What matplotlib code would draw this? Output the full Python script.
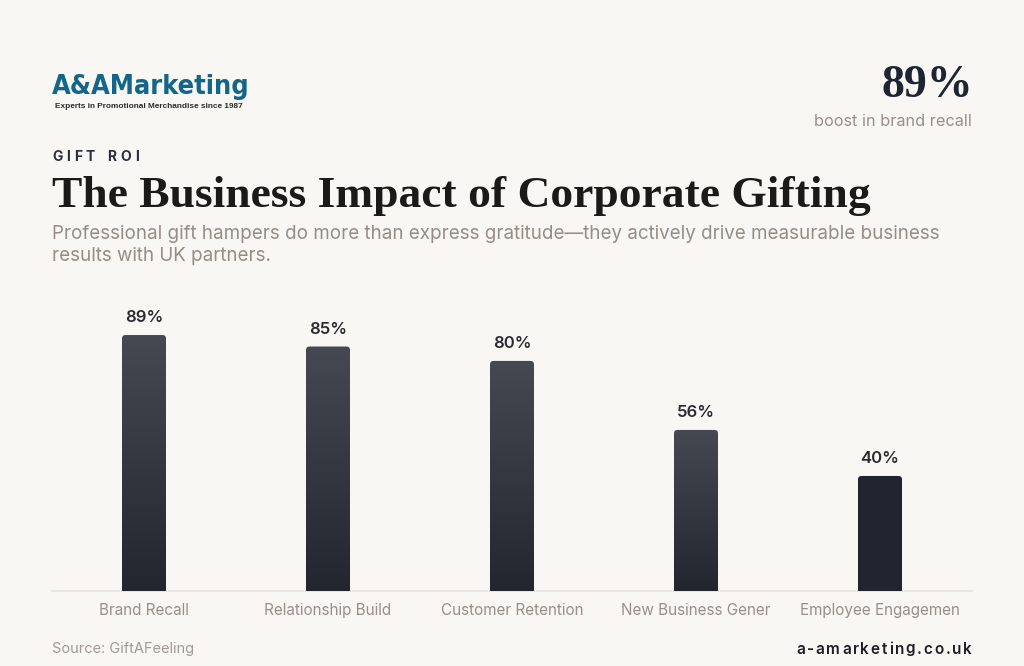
import matplotlib
matplotlib.use("Agg")
import matplotlib.pyplot as plt
import numpy as np
from matplotlib.patches import FancyBboxPatch
from matplotlib.colors import LinearSegmentedColormap

# ---- data ----
categories = ["Brand Recall", "Relationship Build", "Customer Retention",
              "New Business Gener", "Employee Engagemen"]
values = [89, 85, 80, 56, 40]
value_labels = ["89%", "85%", "80%", "56%", "40%"]
headline_value = "89%"
headline_caption = "boost in brand recall"
eyebrow = "GIFT ROI"
title = "The Business Impact of Corporate Gifting"
subtitle_lines = ["Professional gift hampers do more than express gratitude\u2014they actively drive measurable business",
                  "results with UK partners."]
source = "Source: GiftAFeeling"
site = "a-amarketing.co.uk"
logo_main = "A&AMarketing"
logo_sub = "Experts in Promotional Merchandise since 1987"

W, H = 1024, 666
BG = "#f8f7f3"
SANS = ["Inter", "DejaVu Sans"]
SERIF = ["Liberation Serif", "DejaVu Serif"]

fig = plt.figure(figsize=(W / 100, H / 100), dpi=100, facecolor=BG)
renderer = fig.canvas.get_renderer()


def fx(x):
    return x / W


def fy(y):
    return 1 - y / H


def text_px(x, y, s, **kw):
    return fig.text(fx(x), fy(y), s, **kw)


def fit_text(x, y, s, target_w, size0, **kw):
    t = text_px(x, y, s, fontsize=size0, **kw)
    w = t.get_window_extent(renderer).width
    t.set_fontsize(size0 * target_w / w)
    return t


def spaced_text(x, y, s, spacing, align="left", **kw):
    # draw characters one by one with extra letter spacing
    widths = []
    for ch in s:
        t = fig.text(0, 0, ch if ch != " " else "n", **kw)
        w = t.get_window_extent(renderer).width
        if ch == " ":
            w *= 0.55
        widths.append(w)
        t.remove()
    total = sum(widths) + spacing * (len(s) - 1)
    cx = x - total if align == "right" else x
    for ch, w in zip(s, widths):
        if ch != " ":
            fig.text(fx(cx), fy(y), ch, ha="left", va="center", **kw)
        cx += w + spacing


# ---- logo ----
fit_text(52, 87, logo_main, 198, 24, family=["DejaVu Sans"], fontstretch="condensed",
         fontweight="bold", color="#14658a", va="center", ha="left")
fit_text(55, 106, logo_sub, 190, 6, family=["Liberation Sans", "DejaVu Sans"],
         fontweight="bold", color="#2b2b2b", va="center", ha="left")

# ---- headline stat ----
text_px(973, 86, headline_value, family=SERIF, fontweight="bold", fontsize=33,
        color="#1f2433", ha="right", va="center")
text_px(972, 122, headline_caption, family=SANS, fontsize=11.7, color="#9a8f87",
        ha="right", va="center")

# ---- eyebrow / title / subtitle ----
spaced_text(52, 157, eyebrow, 3.8, family=SANS, fontweight="bold", fontsize=10,
            color="#2a2d3a")
fit_text(52, 196, title, 816, 30, family=SERIF, fontweight="bold",
         color="#1c1a18", ha="left", va="center")
for i, line in enumerate(subtitle_lines):
    fit_text(52, 234 + 22 * i, line, 885 if i == 0 else 218, 13.4, family=SANS,
             color="#978d85", ha="left", va="center")

# ---- chart ----
base_y = 591
top_y = base_y - 287.6
ax = fig.add_axes([fx(52), fy(base_y), (972 - 52) / W, (base_y - top_y) / H])
ax.set_facecolor("none")
ax.set_xlim(-0.5, len(categories) - 0.5)
ax.set_ylim(0, 100)
x = np.arange(len(categories))
bw = 44 / 184
bars = ax.bar(x, values, width=bw, color="none", edgecolor="none")

cmap = LinearSegmentedColormap.from_list("barg", ["#23262f", "#464852"])
grad = np.linspace(0, 1, 256).reshape(-1, 1)
px_per_x = 920 / len(categories)
px_per_y = 287.6 / 100
r_px = 3.5
for i, b in enumerate(bars):
    bx, by = b.get_x(), b.get_y()
    w, h = b.get_width(), b.get_height()
    rs = r_px / px_per_x
    aspect = (r_px / px_per_y) / rs
    clip = FancyBboxPatch((bx, by - 5), w, h + 5,
                          boxstyle=f"round,pad=0,rounding_size={rs}",
                          mutation_aspect=aspect, facecolor="none",
                          edgecolor="none", transform=ax.transData)
    ax.add_patch(clip)
    if i == len(bars) - 1:
        img = ax.imshow(np.zeros((2, 1)), cmap=LinearSegmentedColormap.from_list("s", ["#22252f", "#22252f"]),
                        extent=[bx, bx + w, 0, h], origin="lower", aspect="auto", zorder=2)
    else:
        img = ax.imshow(grad, cmap=cmap, extent=[bx, bx + w, 0, h],
                        origin="lower", aspect="auto", zorder=2)
    img.set_clip_path(clip)
    ax.annotate(value_labels[i], (b.get_x() + w / 2, h), xytext=(0, 12.5),
                textcoords="offset points", ha="center", va="center",
                family=SANS, fontweight="semibold", fontsize=12, color="#2a2a30")

ax.set_xlim(-0.5, len(categories) - 0.5)
ax.set_ylim(0, 100)
for s in ["top", "right", "left"]:
    ax.spines[s].set_visible(False)
ax.spines["bottom"].set_color("#e6e2dc")
ax.spines["bottom"].set_linewidth(1.2)
ax.spines["bottom"].set_zorder(1)
ax.set_yticks([])
ax.set_xticks(x)
ax.set_xticklabels(categories, family=SANS, fontsize=11, color="#9a8f87")
ax.tick_params(axis="x", length=0, pad=8.5)

# ---- footer ----
text_px(52, 649, source, family=SANS, fontsize=10.5, color="#a39a92",
        ha="left", va="center")
spaced_text(972, 649, site, 1.8, align="right", family=SANS, fontweight="semibold",
            fontsize=11, color="#1e1e24")

fig.savefig("out.png", dpi=100, facecolor=BG)
